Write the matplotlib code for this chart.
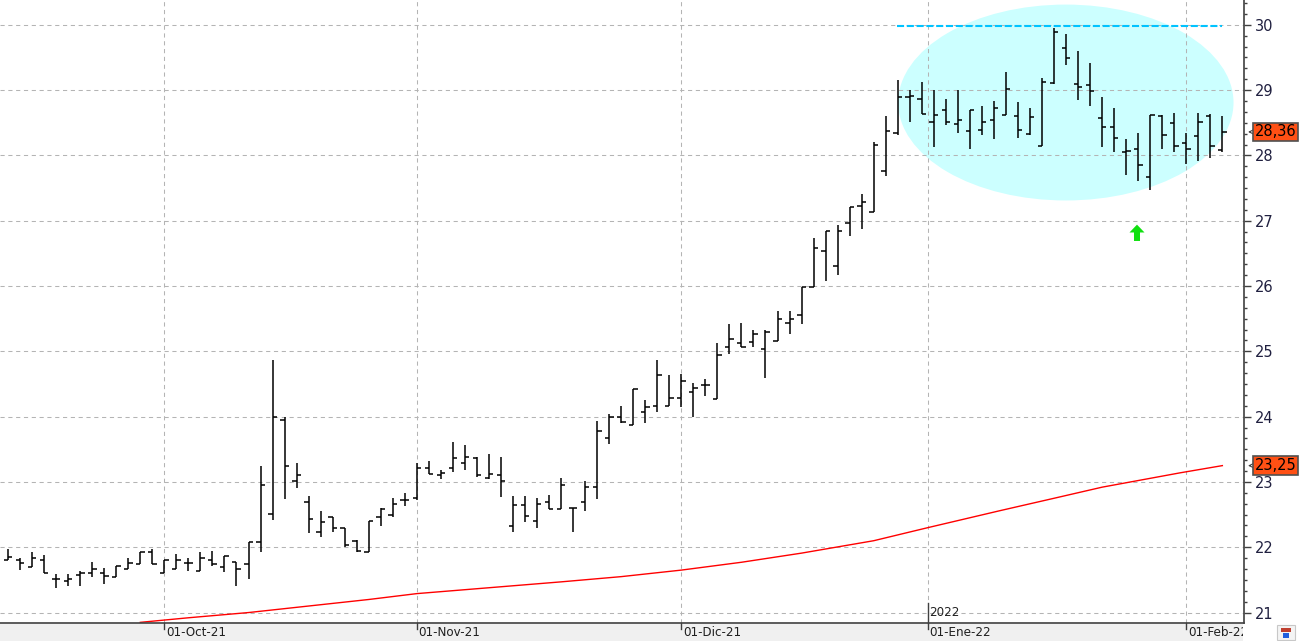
import matplotlib
matplotlib.use("Agg")
import matplotlib.pyplot as plt
import matplotlib.patches as mpatches
import matplotlib.transforms as mtransforms
from matplotlib.ticker import MultipleLocator

# datos diarios OHLC (sep-21 .. feb-22)
opens = [21.81, 21.81, 21.69, 21.81, 21.51, 21.49, 21.57, 21.60, 21.60, 21.55,
         21.66, 21.74, 21.93, 21.60, 21.66, 21.76, 21.63, 21.81, 21.70, 21.78,
         21.74, 22.08, 22.51, 23.95, 23.01, 22.70, 22.23, 22.46, 22.29, 22.10,
         21.93, 22.46, 22.50, 22.72, 22.75, 23.21, 23.10, 23.22, 23.29, 23.37,
         23.06, 23.10, 22.32, 22.65, 22.40, 22.69, 22.58, 22.60, 22.69, 22.92,
         23.67, 24.00, 23.87, 24.07, 24.16, 24.16, 24.28, 24.38, 24.49, 24.27,
         25.06, 25.12, 25.15, 25.04, 25.16, 25.43, 25.55, 25.99, 26.53, 26.31,
         26.97, 27.22, 27.14, 27.76, 28.34, 28.89, 28.86, 28.51, 28.69, 28.48,
         28.37, 28.39, 28.54, 28.62, 28.61, 28.33, 28.15, 29.11, 29.64, 29.09,
         29.08, 28.58, 28.43, 28.06, 28.10, 27.67, 28.60, 28.50, 28.19, 28.29,
         28.61, 28.08]
highs = [21.98, 21.83, 21.92, 21.88, 21.59, 21.59, 21.64, 21.78, 21.68, 21.72,
         21.83, 21.93, 21.98, 21.81, 21.89, 21.83, 21.93, 21.94, 21.86, 21.78,
         22.08, 23.24, 24.87, 24.00, 23.29, 22.79, 22.56, 22.46, 22.29, 22.11,
         22.40, 22.60, 22.75, 22.83, 23.29, 23.32, 23.19, 23.61, 23.56, 23.38,
         23.43, 23.38, 22.78, 22.78, 22.75, 22.80, 23.06, 22.60, 23.01, 23.93,
         24.04, 24.17, 24.43, 24.26, 24.86, 24.63, 24.66, 24.52, 24.58, 25.12,
         25.42, 25.43, 25.32, 25.32, 25.62, 25.62, 25.98, 26.74, 26.85, 26.94,
         27.21, 27.41, 28.21, 28.61, 29.16, 29.00, 29.12, 29.00, 28.86, 29.00,
         28.70, 28.76, 28.84, 29.28, 28.82, 28.72, 29.18, 29.95, 29.86, 29.60,
         29.42, 28.90, 28.73, 28.25, 28.35, 28.62, 28.62, 28.65, 28.35, 28.65,
         28.63, 28.60]
lows = [21.80, 21.65, 21.69, 21.60, 21.38, 21.41, 21.41, 21.55, 21.44, 21.54,
        21.66, 21.74, 21.74, 21.60, 21.66, 21.64, 21.63, 21.72, 21.62, 21.41,
        21.51, 21.92, 22.42, 22.74, 22.91, 22.22, 22.15, 22.23, 22.00, 21.93,
        21.93, 22.32, 22.46, 22.63, 22.73, 23.12, 23.04, 23.15, 23.19, 23.08,
        23.05, 22.77, 22.24, 22.38, 22.29, 22.58, 22.58, 22.24, 22.55, 22.74,
        23.58, 23.90, 23.87, 23.90, 24.07, 24.16, 24.14, 24.00, 24.31, 24.27,
        24.96, 25.07, 25.07, 24.59, 25.16, 25.27, 25.42, 25.99, 26.08, 26.17,
        26.77, 26.88, 27.14, 27.68, 28.32, 28.51, 28.63, 28.13, 28.46, 28.34,
        28.10, 28.31, 28.25, 28.62, 28.26, 28.32, 28.15, 29.10, 29.39, 28.85,
        28.75, 28.13, 28.06, 27.70, 27.61, 27.47, 28.10, 28.06, 27.87, 27.91,
        27.96, 28.06]
closes = [21.85, 21.76, 21.84, 21.60, 21.51, 21.51, 21.61, 21.66, 21.56, 21.71,
          21.76, 21.93, 21.75, 21.81, 21.81, 21.76, 21.84, 21.74, 21.86, 21.66,
          22.08, 22.95, 24.00, 23.25, 23.10, 22.44, 22.38, 22.29, 22.03, 21.94,
          22.40, 22.58, 22.66, 22.73, 23.22, 23.12, 23.13, 23.37, 23.38, 23.10,
          23.12, 23.01, 22.65, 22.48, 22.66, 22.58, 22.95, 22.60, 22.92, 23.78,
          24.00, 23.92, 24.43, 24.15, 24.63, 24.29, 24.55, 24.44, 24.49, 24.95,
          25.19, 25.07, 25.26, 25.29, 25.49, 25.49, 25.98, 26.59, 26.85, 26.84,
          27.21, 27.28, 28.16, 28.37, 28.89, 28.91, 28.63, 28.62, 28.51, 28.54,
          28.70, 28.51, 28.72, 29.02, 28.39, 28.59, 29.13, 29.89, 29.49, 29.05,
          28.99, 28.44, 28.26, 28.07, 27.86, 28.62, 28.32, 28.14, 28.10, 28.51,
          28.14, 28.36]

# media movil (roja)
ma_idx = [11, 15, 20, 25, 30, 34, 40, 46, 51, 56, 61, 66, 72, 76.5, 82.5, 87, 91, 97.5, 101]
ma_val = [20.85, 20.92, 21.00, 21.10, 21.20, 21.29, 21.38, 21.47, 21.55, 21.65,
          21.77, 21.91, 22.10, 22.30, 22.56, 22.75, 22.92, 23.14, 23.25]

# etiquetas de meses
month_pos = [13, 34, 56, 76.5, 98]
month_labels = ["01-Oct-21", "01-Nov-21", "01-Dic-21", "01-Ene-22", "01-Feb-22"]

last_close = 28.36
last_ma = 23.25
resistance = 29.98

W, H = 1303, 641
fig = plt.figure(figsize=(W / 100, H / 100), dpi=100)
fig.patch.set_facecolor("white")
ax = fig.add_axes([0, 18 / H, 1244 / W, 623 / H])

x = list(range(len(opens)))
ax.set_xlim(-0.67, 102.8)
ax.set_ylim(20.84, 30.38)

# zona sombreada
ell = mpatches.Ellipse((87.98, 28.81), 27.9, 3.0, fc="#ccffff", ec="none", zorder=0.3)
ax.add_patch(ell)

# rejilla
for v in range(21, 31):
    ax.axhline(v, color="#b4b4b4", lw=0.75, dashes=(4, 3.5), zorder=0.6)
for p in month_pos:
    ax.axvline(p, color="#b4b4b4", lw=0.75, dashes=(4, 3.5), zorder=0.6)

# barras OHLC
tw = 0.36
ax.vlines(x, lows, highs, color="black", lw=1.1, zorder=3)
ax.hlines(opens, [i - tw for i in x], x, color="black", lw=1.1, zorder=3)
ax.hlines(closes, x, [i + tw for i in x], color="black", lw=1.1, zorder=3)

# media movil
ax.plot(ma_idx, ma_val, color="red", lw=1.0, zorder=2)

# resistencia
ax.plot([73.96, 101.0], [resistance, resistance], color="#00c3ff", lw=1.5,
        dashes=(3.4, 1.3), zorder=2.5)

# flecha verde
arr = mpatches.FancyArrow(93.9, 26.69, 0, 0.25, width=0.5, head_width=1.25,
                          head_length=0.12, length_includes_head=True,
                          fc="#10e010", ec="none", zorder=3)
ax.add_patch(arr)

# ejes
for s in ["top", "left"]:
    ax.spines[s].set_visible(False)
ax.spines["right"].set_color("#404040")
ax.spines["bottom"].set_color("#404040")
ax.spines["right"].set_linewidth(1.2)
ax.spines["bottom"].set_linewidth(1.2)
ax.yaxis.tick_right()
ax.yaxis.set_major_locator(MultipleLocator(1))
ax.yaxis.set_minor_locator(MultipleLocator(1 / 6))
ax.tick_params(axis="y", which="major", length=5, width=1, color="#404040",
               pad=3, labelsize=10.5, labelcolor="#202040")
ax.tick_params(axis="y", which="minor", length=2.5, width=1, color="#404040")
ax.set_yticks(range(21, 31))
ax.set_yticklabels([str(v) for v in range(21, 31)])
ax.set_xticks([])

# franja gris inferior
strip = mpatches.Rectangle((0, 0), 1243 / W, 17 / H, transform=fig.transFigure,
                           fc="#f0f0f0", ec="none", zorder=-1)
fig.patches.append(strip)

trans = mtransforms.blended_transform_factory(ax.transData, ax.transAxes)
for p, lab in zip(month_pos, month_labels):
    ax.plot([p, p], [0, -6 / 623], color="#404040", lw=1, transform=trans, clip_on=False)
    t = ax.text(p + 0.15, -10 / 623, lab, transform=trans, ha="left", va="center",
                fontsize=9.5, fontstretch="condensed", family="DejaVu Sans",
                color="#202020", clip_on=True, zorder=5)
    t.set_clip_path(strip)
# separador de anio
ax.plot([76.5, 76.5], [0, 20 / 623], color="#404040", lw=1, transform=trans, clip_on=False)
ax.text(76.6, 4 / 623, "2022", transform=trans, ha="left", va="bottom",
        fontsize=9.5, fontstretch="condensed", color="#202020")

# etiquetas de valor
transy = mtransforms.blended_transform_factory(ax.transAxes, ax.transData)
for val in [last_close, last_ma]:
    ax.text(1.0085, val, f"{val:.2f}".replace(".", ","), transform=transy,
            ha="left", va="center", fontsize=10.5, color="black",
            bbox=dict(boxstyle="square,pad=0.12", fc="#ff5014", ec="#505050", lw=1.2),
            clip_on=False, zorder=5)
    ax.annotate("", xy=(1.001, val), xytext=(1.0075, val), xycoords=transy,
                textcoords=transy, arrowprops=dict(arrowstyle="->", color="#404040", lw=0.8),
                annotation_clip=False)

# icono esquina inferior derecha
fig.patches.append(mpatches.Rectangle((1277 / W, 1 / H), 18 / W, 15 / H,
                                      transform=fig.transFigure, fc="#f4f4f4",
                                      ec="#c8c8c8", lw=0.8))
fig.patches.append(mpatches.Rectangle((1281 / W, 9 / H), 10 / W, 4 / H,
                                      transform=fig.transFigure, fc="#c04030", ec="none"))
fig.patches.append(mpatches.Rectangle((1283 / W, 3 / H), 6 / W, 5 / H,
                                      transform=fig.transFigure, fc="#2060e0", ec="none"))

fig.savefig("out.png", dpi=100)
